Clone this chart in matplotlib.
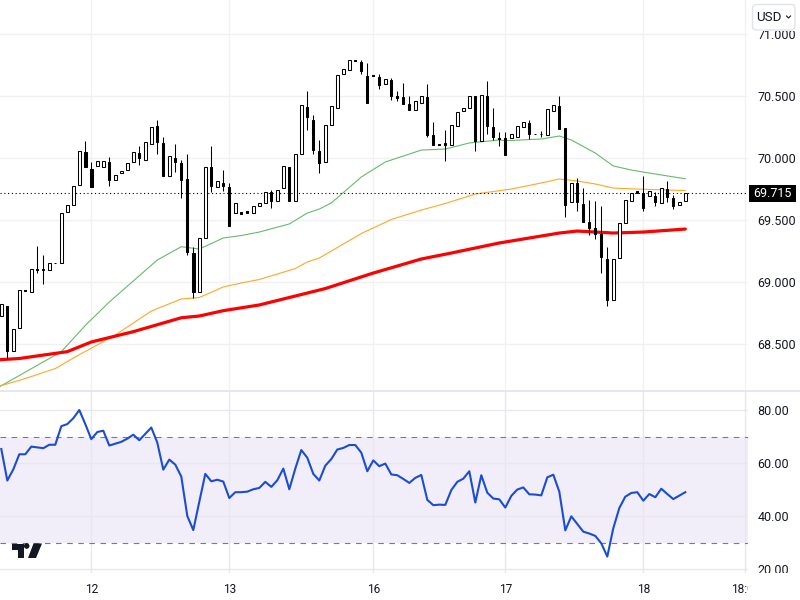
import numpy as np
import matplotlib
matplotlib.use("Agg")
import matplotlib.pyplot as plt
from matplotlib.lines import Line2D
from matplotlib.patches import Rectangle, FancyBboxPatch, Polygon, Circle

plt.rcParams['font.family'] = ['Roboto', 'DejaVu Sans']

# candles
opens = [68.726, 68.809, 68.444, 68.629, 68.935, 68.919, 69.104, 69.104, 69.096, 69.156,
         69.152, 69.563, 69.619, 69.780, 70.048, 69.909, 69.933, 69.925, 69.968, 69.820,
         69.877, 69.901, 69.965, 70.040, 69.981, 70.110, 70.258, 70.121, 69.853, 70.000,
         69.960, 69.831, 69.235, 68.919, 69.354, 69.928, 69.764, 69.796, 69.767, 69.560,
         69.565, 69.571, 69.560, 69.611, 69.635, 69.724, 69.656, 69.756, 69.928, 69.656,
         70.030, 70.411, 70.306, 70.056, 69.965, 70.263, 70.400, 70.674, 70.708, 70.786,
         70.770, 70.660, 70.668, 70.654, 70.593, 70.628, 70.499, 70.491, 70.435, 70.384,
         70.440, 70.491, 70.183, 70.110, 70.121, 70.102, 70.255, 70.376, 70.400, 70.499,
         70.133, 70.499, 70.250, 70.157, 70.161, 70.163, 70.171, 70.252, 70.282, 70.195,
         70.195, 70.188, 70.381, 70.419, 70.242, 69.643, 69.796, 69.630, 69.485, 69.436,
         69.391, 69.185, 68.854, 69.193, 69.474, 69.651, 69.732, 69.716, 69.692, 69.692,
         69.635, 69.748, 69.676, 69.619, 69.651]
highs = [68.822, 68.809, 68.621, 68.935, 68.935, 69.104, 69.292, 69.219, 69.152, 69.156,
         69.555, 69.619, 69.772, 70.054, 70.137, 69.968, 69.973, 69.973, 70.008, 69.861,
         69.893, 69.957, 70.046, 70.094, 70.126, 70.247, 70.306, 70.169, 70.014, 70.113,
         69.984, 70.032, 69.281, 69.354, 69.925, 70.097, 69.812, 69.903, 69.799, 69.635,
         69.565, 69.571, 69.611, 69.635, 69.724, 69.742, 69.740, 69.933, 69.928, 70.030,
         70.424, 70.539, 70.346, 70.145, 70.263, 70.416, 70.666, 70.714, 70.786, 70.786,
         70.789, 70.762, 70.668, 70.679, 70.634, 70.644, 70.539, 70.606, 70.499, 70.456,
         70.497, 70.596, 70.290, 70.110, 70.225, 70.263, 70.368, 70.400, 70.497, 70.499,
         70.505, 70.620, 70.403, 70.209, 70.209, 70.191, 70.255, 70.287, 70.306, 70.195,
         70.215, 70.392, 70.424, 70.499, 70.242, 69.796, 69.839, 69.756, 69.662, 69.651,
         69.614, 69.281, 69.185, 69.474, 69.659, 69.721, 69.732, 69.855, 69.737, 69.726,
         69.761, 69.812, 69.702, 69.648, 69.716]
lows = [68.726, 68.382, 68.444, 68.629, 68.931, 68.919, 69.077, 68.988, 69.096, 69.152,
        69.152, 69.563, 69.619, 69.780, 69.930, 69.769, 69.933, 69.925, 69.777, 69.820,
        69.877, 69.901, 69.965, 69.944, 69.981, 70.110, 70.032, 69.858, 69.853, 69.887,
        69.680, 69.219, 68.871, 68.919, 69.354, 69.726, 69.764, 69.737, 69.455, 69.560,
        69.552, 69.560, 69.560, 69.611, 69.635, 69.600, 69.656, 69.756, 69.656, 69.656,
        70.030, 70.228, 70.035, 69.882, 69.965, 70.263, 70.400, 70.674, 70.708, 70.778,
        70.676, 70.445, 70.658, 70.555, 70.593, 70.469, 70.461, 70.437, 70.389, 70.384,
        70.440, 70.169, 70.107, 70.106, 69.978, 70.102, 70.255, 70.376, 70.400, 70.059,
        70.133, 70.191, 70.145, 70.099, 70.027, 70.163, 70.171, 70.252, 70.151, 70.191,
        70.171, 70.188, 70.381, 70.236, 69.527, 69.643, 69.576, 69.487, 69.378, 69.350,
        69.077, 68.811, 68.854, 69.193, 69.474, 69.651, 69.718, 69.576, 69.692, 69.614,
        69.635, 69.646, 69.589, 69.619, 69.651]
closes = [68.822, 68.449, 68.621, 68.935, 68.931, 69.104, 69.098, 69.098, 69.152, 69.152,
          69.555, 69.619, 69.772, 70.054, 69.930, 69.769, 69.973, 69.973, 69.825, 69.861,
          69.893, 69.957, 70.046, 70.000, 70.126, 70.247, 70.131, 69.858, 70.014, 69.968,
          69.825, 69.246, 68.924, 69.354, 69.925, 69.777, 69.812, 69.775, 69.455, 69.635,
          69.552, 69.560, 69.611, 69.635, 69.724, 69.656, 69.740, 69.933, 69.656, 70.030,
          70.424, 70.332, 70.067, 69.962, 70.263, 70.416, 70.666, 70.714, 70.786, 70.778,
          70.703, 70.445, 70.658, 70.590, 70.634, 70.502, 70.485, 70.437, 70.389, 70.456,
          70.497, 70.185, 70.107, 70.106, 70.105, 70.263, 70.368, 70.400, 70.497, 70.137,
          70.505, 70.260, 70.169, 70.153, 70.027, 70.191, 70.255, 70.287, 70.193, 70.191,
          70.191, 70.392, 70.424, 70.236, 69.624, 69.796, 69.648, 69.487, 69.439, 69.391,
          69.205, 68.859, 69.185, 69.474, 69.659, 69.721, 69.718, 69.600, 69.737, 69.646,
          69.761, 69.688, 69.616, 69.648, 69.716]

# moving averages at the bars where the curve bends
green_idx = [-1, 3, 10, 14, 18, 26, 30, 33, 37, 40, 43, 48, 51, 53, 55, 60, 64, 70, 74, 78,
             83, 84, 90, 93, 95, 99, 102, 105, 109, 114]
green_val = [68.140, 68.249, 68.441, 68.652, 68.841, 69.179, 69.286, 69.267, 69.356, 69.376,
             69.404, 69.469, 69.557, 69.589, 69.638, 69.847, 69.968, 70.064, 70.072, 70.121,
             70.145, 70.139, 70.153, 70.177, 70.145, 70.040, 69.936, 69.903, 69.871, 69.833]
orange_idx = [-1, 4, 9, 12, 19, 25, 30, 33, 37, 40, 43, 49, 51, 53, 60, 65, 70, 74, 79, 83,
              85, 90, 93, 96, 99, 102, 106, 114]
orange_val = [68.153, 68.225, 68.305, 68.390, 68.575, 68.768, 68.865, 68.877, 68.962, 68.994,
              69.022, 69.110, 69.163, 69.195, 69.392, 69.505, 69.581, 69.634, 69.710, 69.737,
              69.750, 69.799, 69.831, 69.815, 69.791, 69.758, 69.750, 69.738]
red_idx = [-1, 3, 11, 15, 22, 30, 33, 37, 43, 49, 54, 62, 70, 75, 83, 85, 93, 96, 102, 107, 114]
red_val = [68.374, 68.386, 68.441, 68.519, 68.602, 68.714, 68.728, 68.771, 68.817, 68.889,
           68.949, 69.074, 69.187, 69.235, 69.316, 69.332, 69.396, 69.412, 69.396, 69.404, 69.428]

rsi = [65.4, 53.5, 57.7, 63.4, 63.4, 66.3, 66.0, 65.7, 67.0, 67.0,
       74.0, 74.8, 77.0, 80.1, 74.8, 69.1, 71.8, 72.3, 66.7, 67.4,
       68.1, 69.3, 70.8, 68.7, 71.1, 73.5, 67.8, 57.6, 61.4, 59.5,
       55.0, 40.1, 34.8, 45.5, 56.0, 53.2, 53.8, 53.1, 46.9, 49.1,
       49.1, 49.3, 50.2, 50.7, 53.0, 51.1, 53.6, 58.0, 50.2, 58.0,
       65.0, 62.1, 56.0, 53.5, 59.1, 61.6, 65.2, 65.8, 66.9, 66.9,
       64.0, 57.0, 61.1, 58.9, 59.9, 55.8, 55.5, 54.1, 52.6, 54.5,
       55.6, 46.2, 44.2, 44.4, 44.3, 49.9, 53.0, 54.2, 57.0, 45.2,
       55.5, 48.9, 46.7, 46.4, 43.3, 47.7, 50.1, 50.9, 48.3, 48.2,
       47.9, 54.7, 55.7, 49.3, 34.7, 40.0, 37.1, 34.2, 33.5, 32.6,
       29.8, 24.8, 35.5, 43.1, 47.4, 48.8, 49.1, 45.9, 48.4, 47.2,
       50.4, 48.4, 46.5, 47.8, 49.1]

day_idx = [15, 38, 62, 84, 107, 124]
day_labels = ['12', '13', '16', '17', '18', '18:00']
price_ticks = [68.5, 69.0, 69.5, 70.0, 70.5, 71.0]
rsi_ticks = [20, 40, 60, 80]
last_price = 69.715

W, H = 800, 600
TXT = '#131722'
GRID = '#f0f1f4'


def fx(px):
    return px / W


def fy(py):
    return 1 - py / H


fig = plt.figure(figsize=(8, 6), dpi=100, facecolor='white')
ax = fig.add_axes([0, fy(391), fx(748), 391 / H])
ax2 = fig.add_axes([0, fy(573), fx(748), 181 / H])

x = np.arange(len(opens))
o = np.array(opens)
c = np.array(closes)
up = c >= o

# price pane
ax.plot(green_idx, green_val, color='#66bb6a', lw=0.8, zorder=2)
ax.plot(orange_idx, orange_val, color='#ffa726', lw=0.8, zorder=2)
ax.plot(red_idx, red_val, color='#ff0000', lw=2.3, zorder=2, solid_capstyle='round')
ax.axhline(last_price, color='black', lw=0.8, ls=(0, (1, 2.4)), zorder=2.5)
ax.vlines(x, lows, highs, color='black', lw=0.75, zorder=3)
ax.bar(x[up], (c - o)[up], bottom=o[up], width=0.58, facecolor='white', edgecolor='black',
       linewidth=0.75, zorder=4)
ax.bar(x[~up], (c - o)[~up], bottom=o[~up], width=0.4, facecolor='black', edgecolor='black',
       linewidth=0.75, zorder=4)
ax.set_xlim(-1.3 / 6, (748 - 1.3) / 6)
ax.set_ylim(70 + (158 - 391) * 0.00805, 70 + 158 * 0.00805)
ax.set_yticks(price_ticks)
ax.set_yticklabels([f'{p:.3f}' for p in price_ticks])
ax.set_xticks(day_idx)
ax.tick_params(axis='x', length=0, labelbottom=False)

# rsi pane
ax2.axhspan(30, 70, color='#f1edf9', lw=0, zorder=0)
ax2.axhline(70, color='#787b86', lw=0.8, ls=(0, (5, 5)), zorder=1.5)
ax2.axhline(30, color='#787b86', lw=0.8, ls=(0, (5, 5)), zorder=1.5)
ax2.plot(x, rsi, color='#1a4dd0', lw=1.5, zorder=3)
ax2.set_xlim(-1.3 / 6, (748 - 1.3) / 6)
ax2.set_ylim(80 - (573 - 410.3) / 2.65, 80 - (392 - 410.3) / 2.65)
ax2.set_yticks(rsi_ticks)
ax2.set_yticklabels([f'{v:.2f}' for v in rsi_ticks])
ax2.set_xticks(day_idx)
ax2.set_xticklabels(day_labels)

for a in (ax, ax2):
    for s in a.spines.values():
        s.set_visible(False)
    a.yaxis.tick_right()
    a.grid(True, color=GRID, lw=1.0, zorder=1)
    a.set_axisbelow(True)
    a.tick_params(axis='y', length=0, pad=7, labelsize=9, labelcolor=TXT)
ax2.tick_params(axis='x', length=0, pad=7.5, labelsize=8.6, labelcolor=TXT)
ax2.grid(True, color='#e7e8ee', lw=1.0, zorder=1)

# pieces that sit over the axes: separator, clipped labels, last price tag, currency button
fig.add_artist(Line2D([0, 1], [fy(391)] * 2, color='#e0e3eb', lw=1.2))
fig.add_artist(Rectangle((fx(748), 0), fx(52), 27 / H, facecolor='white', edgecolor='none',
                         transform=fig.transFigure, zorder=5))
fig.add_artist(Rectangle((fx(749), fy(202)), fx(47), 17 / H, facecolor='black',
                         edgecolor='none', transform=fig.transFigure, zorder=6))
fig.text(fx(772.5), fy(193.5), f'{last_price:.3f}', color='white', fontsize=9, ha='center',
         va='center', zorder=7)
fig.add_artist(Rectangle((fx(749), fy(31)), fx(51), 31 / H, facecolor='white',
                         edgecolor='none', transform=fig.transFigure, zorder=5))
fig.add_artist(FancyBboxPatch((752.5, H - 30), 42.5, 25.5,
                              boxstyle='round,pad=0,rounding_size=4', facecolor='white',
                              edgecolor='#e0e3eb', lw=1,
                              transform=None, zorder=6))
fig.text(fx(756.5), fy(17.5), 'USD', color=TXT, fontsize=9.6, ha='left', va='center', zorder=7)
fig.add_artist(Line2D([fx(786.5), fx(788.5), fx(790.5)], [fy(16), fy(18), fy(16)],
                      color=TXT, lw=0.8, zorder=7))

# tradingview mark
logo = '#131722'
fig.add_artist(Polygon([(fx(12), fy(543.5)), (fx(24), fy(543.5)), (fx(24), fy(558)),
                        (fx(18), fy(558)), (fx(18), fy(549.5)), (fx(12), fy(549.5))],
                       closed=True, facecolor=logo, edgecolor='none',
                       transform=fig.transFigure, zorder=6))
fig.add_artist(Circle((26.7, H - 546), 2.8, facecolor=logo, edgecolor='none',
                      transform=None, zorder=6))
fig.add_artist(Polygon([(fx(33.5), fy(543.5)), (fx(42), fy(543.5)), (fx(36), fy(558)),
                        (fx(28), fy(558))],
                       closed=True, facecolor=logo, edgecolor='none',
                       transform=fig.transFigure, zorder=6))

fig.savefig('out.png', dpi=100)
